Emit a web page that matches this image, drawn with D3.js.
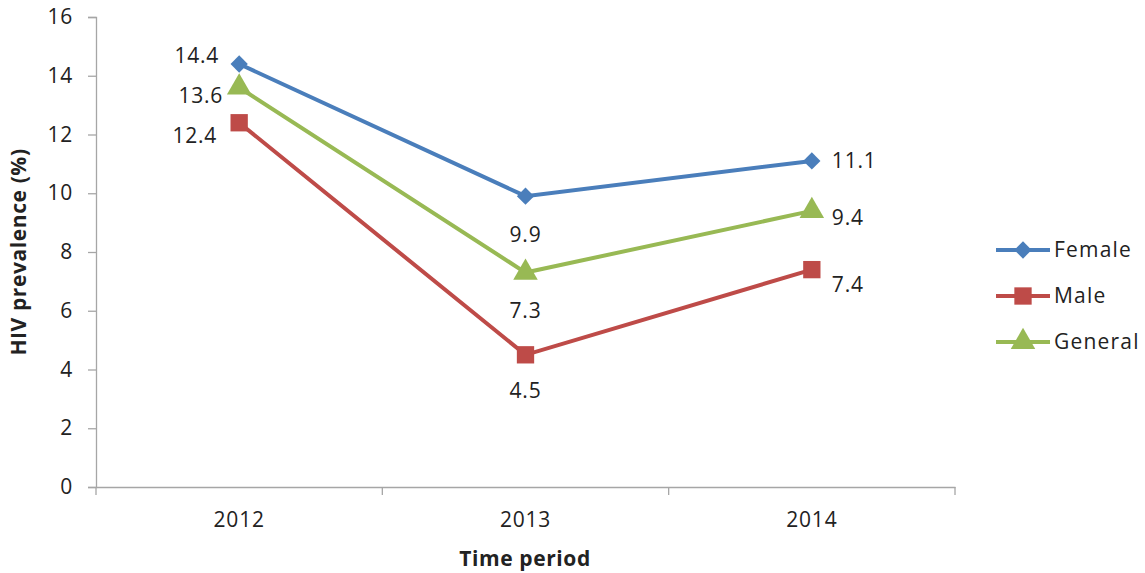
<!DOCTYPE html>
<html>
<head>
<meta charset="utf-8">
<script src="https://cdn.jsdelivr.net/npm/d3@7"></script>
<style>
  body { margin: 0; background: #fff; }
  text { font-family: "Open Sans", "Liberation Sans", sans-serif; fill: #222; }
</style>
</head>
<body>
<div id="chart"></div>
<script>
var years = ["2012", "2013", "2014"];
var yTicks = [0, 2, 4, 6, 8, 10, 12, 14, 16];
var seriesNames = ["Female", "Male", "General"];
var female = [14.4, 9.9, 11.1];
var male = [12.4, 4.5, 7.4];
var general = [13.6, 7.3, 9.4];

var colors = { Female: "#4a7ebb", Male: "#be4b48", General: "#98b954" };
var symbols = { Female: d3.symbolDiamond2, Male: d3.symbolSquare, General: d3.symbolTriangle };
var symSize = { Female: 190, Male: 300, General: 260 };

// label offsets (dx, dy, anchor) per series per year
var labelPos = {
  Female: [[-20, -8, "end"], [0, 38, "middle"], [20, 0, "start"]],
  Male: [[-22, 13, "end"], [0, 36, "middle"], [20, 15, "start"]],
  General: [[-16, 8, "end"], [0, 38, "middle"], [20, 7, "start"]]
};

var data = seriesNames.map(function (n, i) {
  return { name: n, values: [female, male, general][i] };
});

var W = 1145, H = 573;
var margin = { top: 17, left: 96 };
var fs = "21px", ls = "0.8px";

var svg = d3.select("#chart").append("svg")
  .attr("width", W).attr("height", H);

var x = d3.scaleBand().domain(years)
  .range([margin.left, 955]);
var y = d3.scaleLinear().domain([0, 16])
  .range([487, margin.top]);

// y axis
var yAxis = svg.append("g")
  .attr("transform", "translate(" + margin.left + ",0)")
  .call(d3.axisLeft(y).tickValues(yTicks).tickSize(8).tickPadding(15));
// x axis
var xAxis = svg.append("g")
  .attr("transform", "translate(0,487)")
  .call(d3.axisBottom(x).tickSize(0).tickPadding(25));

yAxis.select(".domain").attr("stroke", "#a6a6a6").attr("stroke-width", 1.3);
xAxis.select(".domain").attr("stroke", "#a6a6a6").attr("stroke-width", 1.3);
yAxis.selectAll(".tick line").attr("stroke", "#a6a6a6").attr("stroke-width", 1.3);
svg.selectAll(".tick text").style("font-size", fs).style("letter-spacing", ls).attr("fill", "#222");

// x tick marks at band boundaries
var bounds = years.map(function (d) { return x(d); }).concat([x.range()[1]]);
svg.selectAll(".xtick").data(bounds).enter().append("line")
  .attr("x1", function (d) { return d; }).attr("x2", function (d) { return d; })
  .attr("y1", 487).attr("y2", 495)
  .attr("stroke", "#a6a6a6").attr("stroke-width", 1.3);

var cx = function (i) { return x(years[i]) + x.bandwidth() / 2; };

var line = d3.line()
  .x(function (d, i) { return cx(i); })
  .y(function (d) { return y(d); });

var series = svg.selectAll(".series").data(data).enter().append("g");

series.append("path")
  .attr("d", function (d) { return line(d.values); })
  .attr("fill", "none")
  .attr("stroke", function (d) { return colors[d.name]; })
  .attr("stroke-width", 4);

series.each(function (s) {
  var g = d3.select(this);
  g.selectAll("path.mk").data(s.values).enter().append("path")
    .attr("class", "mk")
    .attr("d", d3.symbol().type(symbols[s.name]).size(symSize[s.name]))
    .attr("transform", function (d, i) { return "translate(" + cx(i) + "," + y(d) + ")"; })
    .attr("fill", colors[s.name]);
  g.selectAll("text.lbl").data(s.values).enter().append("text")
    .attr("class", "lbl")
    .attr("x", function (d, i) { return cx(i) + labelPos[s.name][i][0]; })
    .attr("y", function (d, i) { return y(d) + labelPos[s.name][i][1]; })
    .attr("dy", "0.35em")
    .attr("text-anchor", function (d, i) { return labelPos[s.name][i][2]; })
    .style("font-size", fs).style("letter-spacing", ls)
    .text(function (d) { return d.toFixed(1); });
});

// legend
var legend = svg.selectAll(".legend").data(data).enter().append("g")
  .attr("transform", function (d, i) { return "translate(996," + (250 + i * 46) + ")"; });
legend.append("line")
  .attr("x1", 0).attr("x2", 54)
  .attr("stroke", function (d) { return colors[d.name]; })
  .attr("stroke-width", 4);
legend.append("path")
  .attr("d", function (d) { return d3.symbol().type(symbols[d.name]).size(symSize[d.name])(); })
  .attr("transform", "translate(27,0)")
  .attr("fill", function (d) { return colors[d.name]; });
legend.append("text")
  .attr("x", 58).attr("dy", "0.35em")
  .style("font-size", fs).style("letter-spacing", "1.2px")
  .text(function (d) { return d.name; });

// axis titles
svg.append("text")
  .attr("transform", "translate(26,252) rotate(-90)")
  .attr("text-anchor", "middle")
  .style("font-size", "21px").style("font-weight", "bold").style("letter-spacing", "0.6px")
  .text("HIV prevalence (%)");
svg.append("text")
  .attr("x", 525).attr("y", 566)
  .attr("text-anchor", "middle")
  .style("font-size", "21px").style("font-weight", "bold").style("letter-spacing", "0.6px")
  .text("Time period");
</script>
</body>
</html>
